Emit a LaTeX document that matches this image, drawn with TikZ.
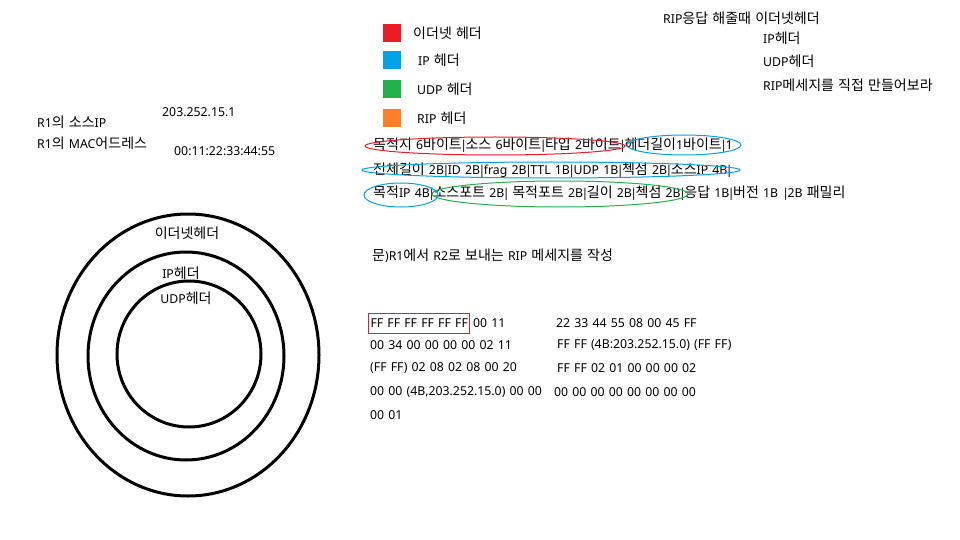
\documentclass[tikz,border=0pt]{standalone}
\usepackage{fontspec}
\setmainfont[WordSpace=1.3]{Noto Sans}
\newfontfamily\krfont[Scale=1.14]{Noto Sans CJK KR}
\usepackage{tikz}

% hangul in the Korean font, everything else in the Latin one
\newXeTeXintercharclass\krclass
\newXeTeXintercharclass\barclass
\makeatletter
\count@="AC00
\loop \XeTeXcharclass\count@=\krclass \advance\count@ by 1 \ifnum\count@<"D7A4 \repeat
\makeatother
\XeTeXcharclass`\|=\barclass
\XeTeXinterchartoks 0 \krclass = {\begingroup\krfont}
\XeTeXinterchartoks 4095 \krclass = {\begingroup\krfont}
\XeTeXinterchartoks \krclass 0 = {\endgroup}
\XeTeXinterchartoks \krclass 4095 = {\endgroup}
% tighter bars
\XeTeXinterchartoks 0 \barclass = {\kern-1.5pt\relax}
\XeTeXinterchartoks \krclass \barclass = {\endgroup\kern-1.5pt\relax}
\XeTeXinterchartoks \barclass 0 = {\kern-1.5pt\relax}
\XeTeXinterchartoks \barclass \krclass = {\kern-1.5pt\relax\begingroup\krfont}
\XeTeXinterchartoks \barclass 4095 = {\kern-1.5pt\relax}
\XeTeXinterchartokenstate=1

\definecolor{ethred}{HTML}{ED1C24}
\definecolor{ipblue}{HTML}{00A2E8}
\definecolor{udpgreen}{HTML}{22B14C}
\definecolor{riporange}{HTML}{FF7F27}

\begin{document}
\begin{tikzpicture}[x=1pt,y=-1pt,
		txt/.style={anchor=west,inner sep=0pt,font=\fontsize{12.3}{14}\selectfont},
		key/.style={minimum width=18pt,minimum height=18pt,inner sep=0pt},
		ring/.style={line width=3pt},
		markline/.style={line width=1pt}]
		\begingroup
		\useasboundingbox (0,0) rectangle (960,540);
		
		% legend
		\node[key, fill=ethred] (keyeth) at (392,33) {};
		\node[key, fill=ipblue] (keyip) at (392,60) {};
		\node[key, fill=udpgreen] (keyudp) at (392,89) {};
		\node[key, fill=riporange] (keyrip) at (392,118) {};
		\node[txt] (labeth) at (413,33) {이더넷 헤더};
		\node[txt] (labip) at (418,60) {IP 헤더};
		\node[txt] (labudp) at (417,89) {UDP 헤더};
		\node[txt] (labrip) at (417,118) {RIP 헤더};
		
		% task
		\node[txt] (taska) at (663,18) {RIP응답 해줄때 이더넷헤더};
		\node[txt] (taskb) at (763,38) {IP헤더};
		\node[txt] (taskc) at (763,61) {UDP헤더};
		\node[txt] (taskd) at (763,85) {RIP메세지를 직접 만들어보라};
		
		% R1
		\node[txt] (srcip) at (37,122) {R1의 소스IP};
		\node[txt] (srcmac) at (37,143) {R1의 MAC어드레스};
		\node[txt] (ipval) at (162,112) {203.252.15.1};
		\node[txt] (macval) at (174,151) {00:11:22:33:44:55};
		
		% rings
		\draw[ring] (188,355) ellipse [x radius=131, y radius=141];
		\draw[ring] (186,356) ellipse [x radius=98, y radius=104];
		\draw[ring] (189,354) ellipse [x radius=72, y radius=73];
		\node[txt, anchor=center] (ringeth) at (187,233) {이더넷헤더};
		\node[txt, anchor=center] (ringip) at (181,273) {IP헤더};
		\node[txt, anchor=center] (ringudp) at (186,298) {UDP헤더};
		
		% fields
		\node[txt] (rowa) at (373,145) {목적지 6바이트|소스 6바이트|타입 2바이트|헤더길이1바이트|1};
		\node[txt] (rowb) at (373,170) {전체길이 2B|ID 2B|frag 2B|TTL 1B|UDP 1B|첵섬 2B|소스IP 4B|};
		\node[txt] (rowc) at (373,193) {목적IP 4B|소스포트 2B| 목적포트 2B|길이 2B|첵섬 2B|응답 1B|버전 1B |2B 패밀리};
		\draw[markline, ethred] (495,146) ellipse [x radius=130, y radius=9];
		\draw[markline, ipblue] (684,145) ellipse [x radius=57, y radius=10];
		\draw[markline, ipblue] (551,170) ellipse [x radius=189, y radius=8];
		\draw[markline, ipblue] (401,195) ellipse [x radius=37, y radius=12];
		\draw[markline, udpgreen] (560,194) ellipse [x radius=128, y radius=13];
		
		% question
		\node[txt] (quest) at (372,256) {문)R1에서 R2로 보내는 RIP 메세지를 작성};
		
		% hex
		\node[txt, draw=ethred, markline, inner xsep=2pt, minimum height=20pt] (hexa) at (368,323) {FF FF FF FF FF FF};
		\node[txt] (hexb) at (473,323) {00 11};
		\node[txt] (hexc) at (556,323) {22 33 44 55 08 00 45 FF};
		\node[txt] (hexd) at (370,345) {00 34 00 00 00 00 02 11};
		\node[txt] (hexe) at (557,345) {FF FF (4B:203.252.15.0) (FF FF)};
		\node[txt] (hexf) at (370,368) {(FF FF) 02 08 02 08 00 20};
		\node[txt] (hexg) at (557,368) {FF FF 02 01 00 00 00 02};
		\node[txt] (hexh) at (370,392) {00 00 (4B,203.252.15.0) 00 00};
		\node[txt] (hexi) at (554,392) {00 00 00 00 00 00 00 00};
		\node[txt] (hexj) at (370,415) {00 01};
		\endgroup
\end{tikzpicture}
\end{document}
